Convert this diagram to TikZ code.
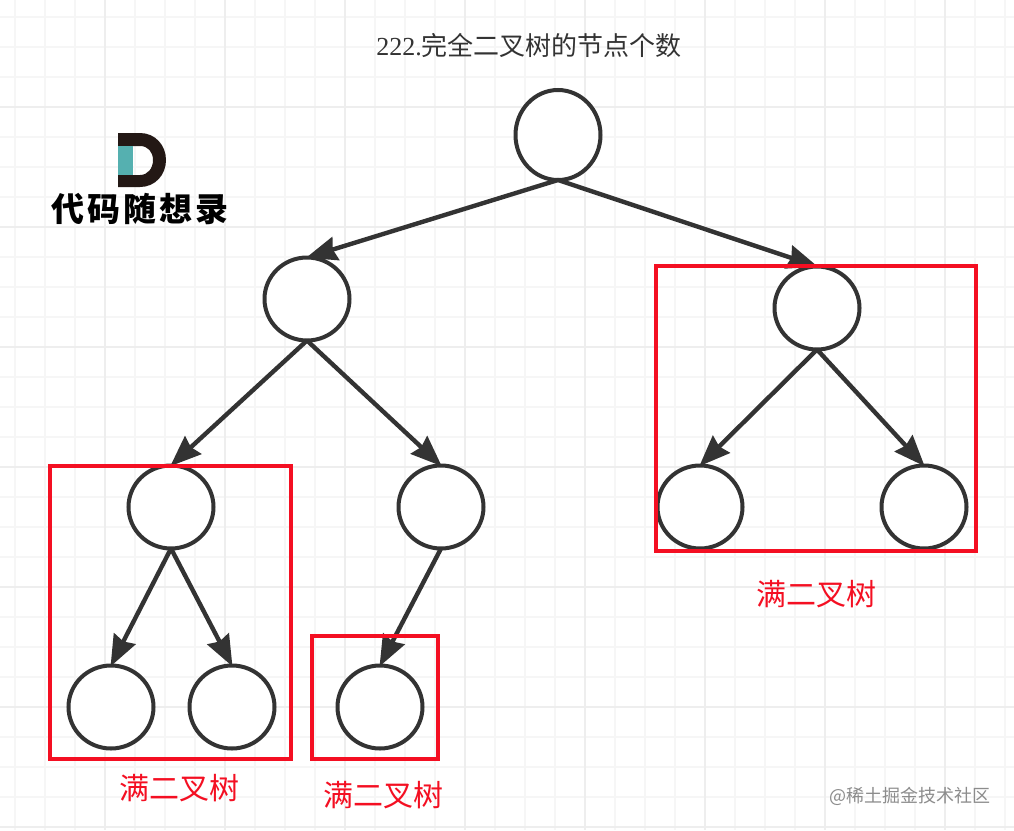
\documentclass[tikz,border=0pt]{standalone}
\usepackage{fontspec}
\setmainfont{Liberation Serif}
\newfontfamily\cjk{Noto Sans CJK SC}
\usetikzlibrary{shapes.geometric,arrows.meta}
\definecolor{inkc}{HTML}{333333}
\definecolor{redc}{HTML}{F40F22}
\definecolor{minorc}{HTML}{F6F6F6}
\definecolor{majorc}{HTML}{EEEEEE}
\definecolor{tealc}{HTML}{55B0B0}
\definecolor{logoc}{HTML}{231815}
\tikzset{
  treenode/.style={draw=inkc,fill=white,ellipse,line width=4pt,inner sep=0pt,outer sep=0pt,minimum width=85pt,minimum height=83pt},
  edge/.style={draw=inkc,line width=4.4pt,-{Stealth[length=31pt,width=24pt,inset=3pt]},shorten >=-1pt},
  redbox/.style={draw=redc,line width=3.6pt},
  redlabel/.style={text=redc,font=\cjk\fontsize{30}{32}\selectfont,inner sep=0pt},
  gridminor/.style={draw=minorc,line width=1.6pt},
  gridmajor/.style={draw=majorc,line width=2.4pt}
}
\begin{document}
\begin{tikzpicture}[x=1pt,y=-1pt]
\useasboundingbox (0,0) rectangle (1014,830);
\fill[white] (0,0) rectangle (1014,830);
% grid
\foreach \gx in {15,45,...,1005} \draw[gridminor] (\gx,0) -- (\gx,830);
\foreach \gy in {17,47,...,827} \draw[gridminor] (0,\gy) -- (1014,\gy);
\foreach \gx in {105,225,...,945} \draw[gridmajor] (\gx,0) -- (\gx,830);
\foreach \gy in {107,227,...,827} \draw[gridmajor] (0,\gy) -- (1014,\gy);
% title
\node[inner sep=0pt,text=inkc] (title) at (529,46) {\fontsize{26}{28}\selectfont 222.{\cjk 完全二叉树的节点个数}};
% logo
\fill[logoc,even odd rule] (118,133) -- (140,133) .. controls (155,133) and (166,145) .. (166,160) .. controls (166,175) and (155,187) .. (140,187) -- (118,187) -- cycle
  (118,146) -- (140,146) .. controls (148,146) and (153,152) .. (153,160) .. controls (153,168) and (148,175) .. (140,175) -- (118,175) -- cycle;
\fill[tealc] (118,146) rectangle (133,175);
\node[inner sep=0pt,text=black] (logotext) at (140,209) {\cjk\bfseries\fontsize{33}{35}\selectfont 代\hspace{3pt}码\hspace{3pt}随\hspace{3pt}想\hspace{3pt}录};
% nodes
\node[treenode,minimum height=90pt] (root) at (558,135) {};
\node[treenode] (l) at (307,299) {};
\node[treenode] (r) at (817,308) {};
\node[treenode] (ll) at (171,507) {};
\node[treenode] (lr) at (441,507) {};
\node[treenode] (rl) at (700,507) {};
\node[treenode] (rr) at (924,507) {};
\node[treenode] (lll) at (111,707) {};
\node[treenode] (llr) at (232,707) {};
\node[treenode] (lrl) at (380,707) {};
% edges
\draw[edge] (root.south) -- (l.north);
\draw[edge] (root.south) -- (r.north);
\draw[edge] (l.south) -- (ll.north);
\draw[edge] (l.south) -- (lr.north);
\draw[edge] (r.south) -- (rl.north);
\draw[edge] (r.south) -- (rr.north);
\draw[edge] (ll.south) -- (lll.north);
\draw[edge] (ll.south) -- (llr.north);
\draw[edge] (lr.south) -- (lrl.north);
% red boxes
\draw[redbox] (50,466) rectangle (291,759);
\draw[redbox] (312,636) rectangle (438,759);
\draw[redbox] (656,266) rectangle (976,551);
% labels
\node[redlabel] (la) at (179,788) {满二叉树};
\node[redlabel] (lb) at (383,795) {满二叉树};
\node[redlabel] (lc) at (816,594) {满二叉树};
\node[inner sep=0pt,text=black!45] (wm) at (910,796) {\cjk\fontsize{18}{20}\selectfont @稀土掘金技术社区};
\end{tikzpicture}
\end{document}
